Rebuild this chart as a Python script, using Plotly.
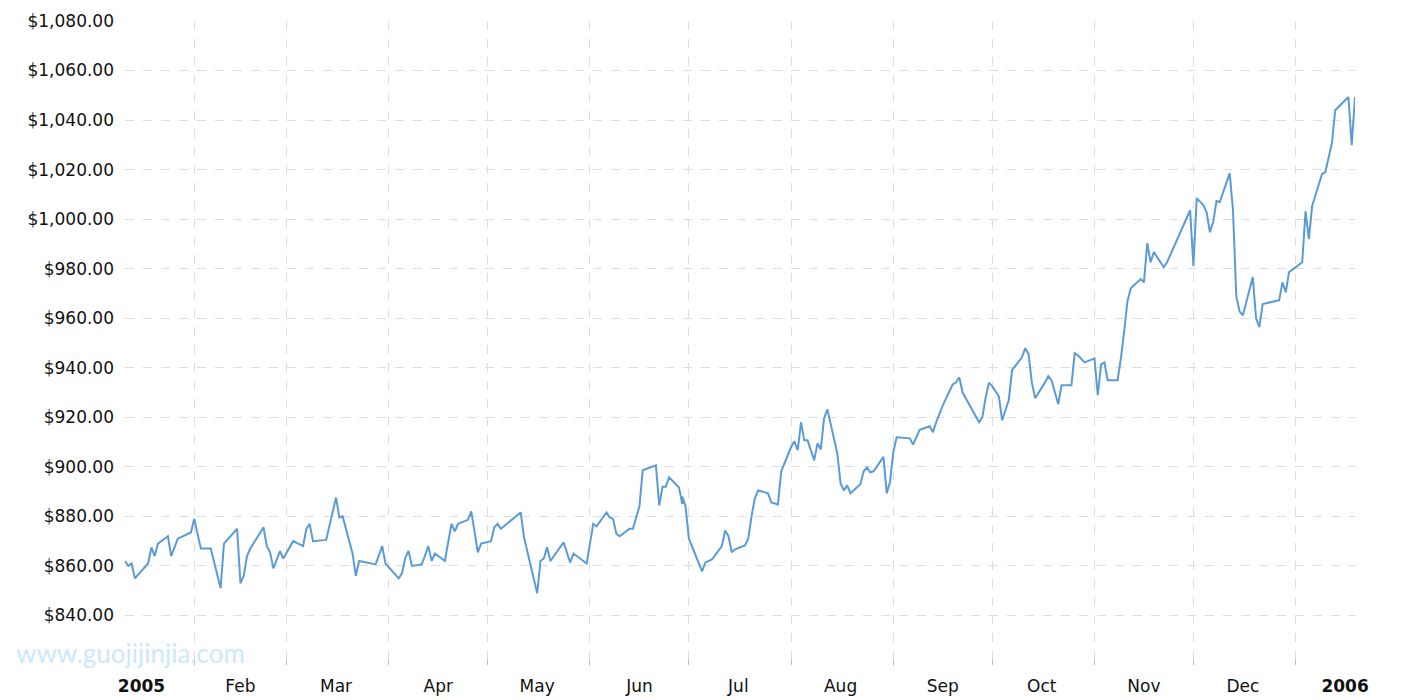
import plotly.graph_objects as go

dates = ["2005-01-11","2005-01-12","2005-01-13","2005-01-14","2005-01-18","2005-01-19","2005-01-20","2005-01-21","2005-01-24","2005-01-25","2005-01-27","2005-01-31",
"2005-02-01","2005-02-03","2005-02-06","2005-02-09","2005-02-10","2005-02-14","2005-02-15","2005-02-16","2005-02-17","2005-02-18","2005-02-22","2005-02-23","2005-02-24","2005-02-25","2005-02-27","2005-02-28",
"2005-03-03","2005-03-06","2005-03-07","2005-03-08","2005-03-09","2005-03-13","2005-03-16","2005-03-17","2005-03-18","2005-03-21","2005-03-22","2005-03-23","2005-03-28","2005-03-30","2005-03-31",
"2005-04-04","2005-04-05","2005-04-06","2005-04-07","2005-04-08","2005-04-11","2005-04-13","2005-04-14","2005-04-15","2005-04-18","2005-04-19","2005-04-20","2005-04-21","2005-04-22","2005-04-25","2005-04-26","2005-04-28","2005-04-29",
"2005-05-02","2005-05-03","2005-05-04","2005-05-05","2005-05-11","2005-05-12","2005-05-16","2005-05-17","2005-05-18","2005-05-19","2005-05-20","2005-05-24","2005-05-26","2005-05-27","2005-05-31",
"2005-06-01","2005-06-02","2005-06-03","2005-06-06","2005-06-07","2005-06-08","2005-06-09","2005-06-10","2005-06-13","2005-06-14","2005-06-16","2005-06-17","2005-06-21","2005-06-22","2005-06-23","2005-06-24","2005-06-25","2005-06-28","2005-06-29","2005-06-29","2005-06-30",
"2005-07-01","2005-07-05","2005-07-06","2005-07-08","2005-07-11","2005-07-12","2005-07-13","2005-07-14","2005-07-15","2005-07-18","2005-07-19","2005-07-20","2005-07-21","2005-07-22","2005-07-25","2005-07-26","2005-07-28","2005-07-29",
"2005-08-01","2005-08-02","2005-08-03","2005-08-04","2005-08-05","2005-08-06","2005-08-08","2005-08-09","2005-08-10","2005-08-11","2005-08-12","2005-08-15","2005-08-16","2005-08-17","2005-08-18","2005-08-19","2005-08-22","2005-08-23","2005-08-24","2005-08-25","2005-08-26","2005-08-29","2005-08-30","2005-08-31",
"2005-09-01","2005-09-02","2005-09-06","2005-09-07","2005-09-09","2005-09-12","2005-09-13","2005-09-14","2005-09-15","2005-09-16","2005-09-19","2005-09-20","2005-09-21","2005-09-22","2005-09-27","2005-09-28","2005-09-29","2005-09-30",
"2005-10-01","2005-10-03","2005-10-04","2005-10-06","2005-10-07","2005-10-10","2005-10-11","2005-10-12","2005-10-13","2005-10-14","2005-10-17","2005-10-18","2005-10-19","2005-10-20","2005-10-21","2005-10-22","2005-10-25","2005-10-26","2005-10-27","2005-10-29",
"2005-11-01","2005-11-02","2005-11-03","2005-11-04","2005-11-05","2005-11-08","2005-11-09","2005-11-10","2005-11-11","2005-11-12","2005-11-15","2005-11-16","2005-11-17","2005-11-18","2005-11-19","2005-11-22","2005-11-23","2005-11-30",
"2005-12-01","2005-12-02","2005-12-04","2005-12-05","2005-12-06","2005-12-07","2005-12-08","2005-12-09","2005-12-12","2005-12-13","2005-12-14","2005-12-15","2005-12-16","2005-12-19","2005-12-20","2005-12-21","2005-12-22","2005-12-27","2005-12-28","2005-12-29","2005-12-30",
"2006-01-03","2006-01-04","2006-01-05","2006-01-06","2006-01-09","2006-01-10","2006-01-12","2006-01-13","2006-01-17","2006-01-18","2006-01-19"]

prices = [862,860,861,855,861,867.5,864,869,872,864,871,873.5,
879,867,867,851,869,875,853,856,864,867,875.6,868,865.5,859,866,863,
870,868,875,877,870,870.5,887.6,879.6,880,865,856,862,860.6,868,861,
855,857,863.4,866,860,860.6,868,862,865,862,870,877,874,877,878.6,882,865.5,869,
870,875.6,877,875,881.6,871.5,849,862,863,867.5,862,869.5,861.4,865,861,
870,877,876,881.6,879.6,879,873,872,875,875,884,898.6,900.6,884.4,892,892,895.8,891.7,885,888,884,
871,857.8,861.4,862.6,868,874.3,872,865.5,866.7,868.3,871,880,887.3,890.5,889.3,885.6,884.8,898.2,
908,910.3,906.7,918,910.7,910.7,902.6,909.5,907,919.6,923.2,905.5,893.3,890.5,892.5,889.3,893,898.2,899.8,897.8,898.2,904,889.3,894,
906,911.9,911.5,909,915,916.4,914,918,921.2,924.8,933.3,934.1,936.2,930,918,920.1,928,934,
932.5,928.5,918.8,926.9,939,944.2,947.9,945.5,934.1,927.7,934.1,936.6,934.9,929.7,925.3,932.9,932.9,945.9,945,942.2,
943.8,928.9,941.4,942.2,935,935,943.8,954.7,966.9,972.1,975.8,974.5,990.3,982.6,986.7,980.6,982.6,1003.6,
981,1008.5,1005.7,1002.8,994.7,998.8,1007.3,1006.9,1018.6,1003.6,968.9,962.8,961.2,976.6,960,956.4,965.7,967.3,974.5,970.5,978.6,
982.6,1003.2,991.9,1005.3,1018.2,1019,1030.7,1044,1049.3,1029.9,1049.3]

grid_dates = ["2005-02-01","2005-03-01","2005-04-01","2005-05-01","2005-06-01","2005-07-01","2005-08-01",
              "2005-09-01","2005-10-01","2005-11-01","2005-12-01","2006-01-01"]
label_dates = ["2005-01-16","2005-02-15","2005-03-16","2005-04-16","2005-05-16","2005-06-16","2005-07-16",
               "2005-08-16","2005-09-16","2005-10-16","2005-11-16","2005-12-16","2006-01-16"]
label_text = ["<b>2005</b>","Feb","Mar","Apr","May","Jun","Jul","Aug","Sep","Oct","Nov","Dec","<b>2006</b>"]
y_ticks = [820,840,860,880,900,920,940,960,980,1000,1020,1040,1060,1080]
y_text = ["", "$840.00","$860.00","$880.00","$900.00","$920.00","$940.00","$960.00","$980.00",
          "$1,000.00","$1,020.00","$1,040.00","$1,060.00","$1,080.00"]

FONT = "Verdana, 'DejaVu Sans', sans-serif"
xr = ["2005-01-11", "2006-01-19"]
fig = go.Figure()
fig.add_trace(go.Scatter(x=dates, y=prices, mode="lines", line=dict(color="#5b9bd5", width=2), hoverinfo="x+y"))
fig.add_trace(go.Scatter(x=xr, y=[None, None], xaxis="x2", mode="lines", showlegend=False, hoverinfo="skip"))
fig.update_layout(
    width=1415, height=700, margin=dict(l=117, r=68, t=13, b=43),
    plot_bgcolor="white", paper_bgcolor="white", showlegend=False,
    font=dict(family=FONT, size=17, color="#111"),
    xaxis=dict(range=xr, tickvals=grid_dates, showticklabels=False, showgrid=True,
               gridcolor="#dddddd", griddash="dash", gridwidth=1, ticks="inside", ticklen=5,
               tickcolor="#bbbbbb", zeroline=False, showline=False),
    xaxis2=dict(range=xr, overlaying="x", side="bottom", tickvals=label_dates, ticktext=label_text,
                showgrid=False, ticks="", zeroline=False, showline=False, automargin=False,
                ticklabelstandoff=9, tickfont=dict(family=FONT, size=17, color="#111")),
    yaxis=dict(range=[820, 1080], tickvals=y_ticks, ticktext=y_text, showgrid=True, automargin=False,
               gridcolor="#dddddd", griddash="dash", zeroline=False, ticks="", ticklabelstandoff=10),
)
fig.add_annotation(text="www.guojijinjia.com", xref="paper", yref="paper", x=-0.09, y=0.018,
                   xanchor="left", yanchor="middle", showarrow=False,
                   font=dict(family="Lato", size=26, color="#cce8fb"))
fig.write_html("out.html")
